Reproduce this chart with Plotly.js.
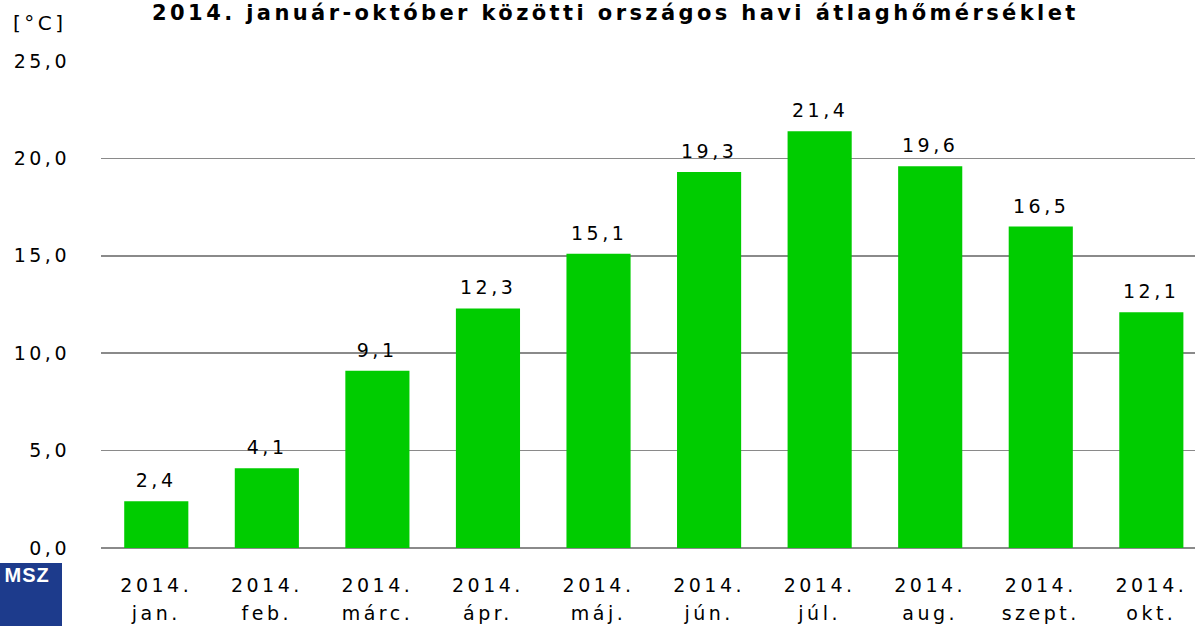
<!DOCTYPE html>
<html><head><meta charset="utf-8">
<script src="https://cdn.plot.ly/plotly-3.0.1.min.js"></script>
<style>
html,body{margin:0;padding:0;background:#fff;}
#chart{width:1195px;height:626px;}
#chart svg text{letter-spacing:3.5px;}
#chart svg .gtitle{letter-spacing:3.4px;}
#chart svg g.annotation[data-index="11"] text{letter-spacing:1px;}
</style>
</head><body><div id="chart"></div>
<script>
const years = ["2014.","2014.","2014.","2014.","2014.","2014.","2014.","2014.","2014.","2014."];
const months = ["jan.","feb.","márc.","ápr.","máj.","jún.","júl.","aug.","szept.","okt."];
const temperatures = [2.4, 4.1, 9.1, 12.3, 15.1, 19.3, 21.4, 19.6, 16.5, 12.1];
const yTicks = [0, 5, 10, 15, 20, 25];

const idx = months.map((c, i) => i);
const fmt = v => v.toFixed(1).replace(".", ",");
const labelFont = {family: "DejaVu Sans, Verdana, sans-serif", size: 19, color: "#000"};

const bars = {
  type: "bar",
  x: idx,
  y: temperatures,
  width: 0.58,
  marker: {color: "#00CC00", line: {width: 0}},
  hoverinfo: "skip"
};
const helper = {
  type: "scatter", mode: "markers", x: idx, y: temperatures, xaxis: "x2", yaxis: "y",
  marker: {opacity: 0}, hoverinfo: "skip", showlegend: false
};

const valueLabels = temperatures.map((v, i) => ({
  x: i, y: v, xref: "x", yref: "y", text: fmt(v), showarrow: false,
  xanchor: "center", yanchor: "bottom", yshift: 8, font: labelFont
}));

const layout = {
  width: 1195, height: 626,
  margin: {l: 101, r: 0, t: 61, b: 78},
  paper_bgcolor: "#fff", plot_bgcolor: "#fff",
  showlegend: false,
  title: {
    text: "<b>2014. január-október közötti országos havi átlaghőmérséklet</b>",
    font: {family: "DejaVu Sans, sans-serif", size: 21, color: "#000"},
    x: 0.515, xanchor: "center", y: 1 - 12.5/626, yanchor: "middle"
  },
  xaxis: {
    range: [-0.5, 9.395],
    tickmode: "array", tickvals: idx, ticktext: years,
    ticks: "", showgrid: false, zeroline: false, showline: false,
    ticklabelstandoff: 24,
    tickfont: labelFont, fixedrange: true
  },
  xaxis2: {
    overlaying: "x", anchor: "y", side: "bottom", matches: "x",
    range: [-0.5, 9.395],
    tickmode: "array", tickvals: idx, ticktext: months,
    ticks: "", showgrid: false, zeroline: false, showline: false,
    ticklabelstandoff: 52,
    tickfont: labelFont, fixedrange: true
  },
  yaxis: {
    range: [0, 25],
    tickmode: "array", tickvals: yTicks,
    ticktext: yTicks.map(fmt),
    showgrid: true, gridcolor: "#8a8a8a", gridwidth: 1.5,
    zeroline: true, zerolinecolor: "#8a8a8a", zerolinewidth: 1.5,
    showline: false, ticks: "", ticklabelstandoff: 30,
    tickfont: labelFont, fixedrange: true
  },
  shapes: [
    {type: "rect", xref: "paper", yref: "paper", x0: -101/1094, x1: -39/1094, y0: -78/487, y1: -15/487,
     fillcolor: "#1d3b8c", line: {width: 0}}
  ],
  annotations: valueLabels.concat([
    {text: "[°C]", xref: "paper", yref: "paper", x: -83/1094, y: 1 + 38/487, xanchor: "left", yanchor: "middle",
     showarrow: false, font: {family: "DejaVu Sans, sans-serif", size: 20, color: "#000"}},
    {text: "<b>MSZ</b>", xref: "paper", yref: "paper", x: -97/1094, y: -27/487, xanchor: "left", yanchor: "middle",
     showarrow: false, font: {family: "Liberation Sans, sans-serif", size: 20, color: "#fff"}}
  ])
};

Plotly.newPlot("chart", [bars, helper], layout, {displayModeBar: false, staticPlot: true});
</script></body></html>
